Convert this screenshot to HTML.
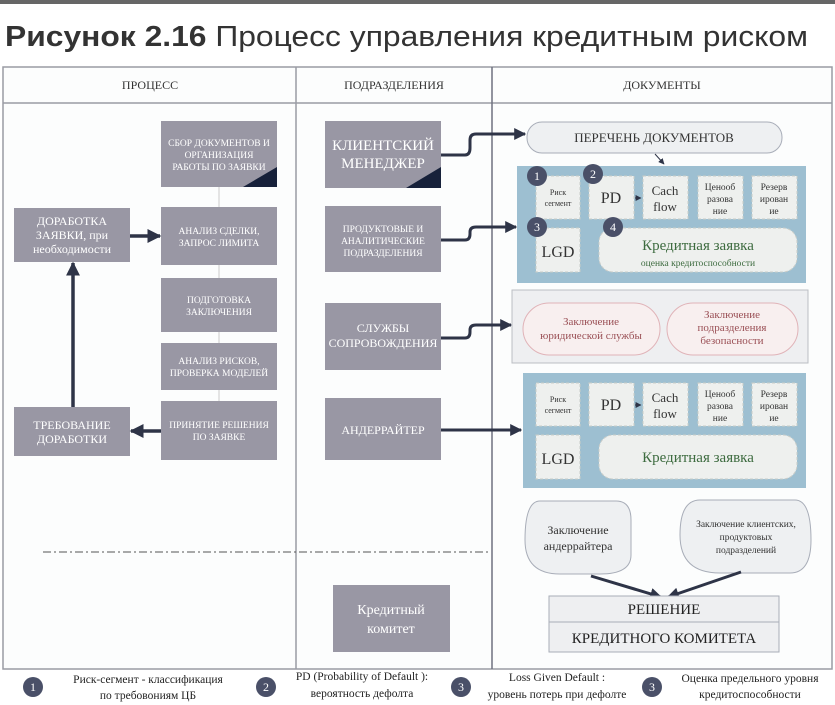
<!DOCTYPE html>
<html><head><meta charset="utf-8"><style>
html,body{margin:0;padding:0;background:#fff;width:835px;height:705px;overflow:hidden}
svg{display:block}
.s{font-family:"Liberation Serif","DejaVu Serif",serif}
.w{fill:#fff}
</style></head><body>
<svg width="835" height="705" viewBox="0 0 835 705" xmlns="http://www.w3.org/2000/svg">
<defs>
<marker id="ah" viewBox="0 0 10 10" refX="9" refY="5" markerWidth="4" markerHeight="4" orient="auto"><path d="M0,0 L10,5 L0,10 z" fill="#2e3447"/></marker>
<marker id="ahs" viewBox="0 0 10 10" refX="9" refY="5" markerWidth="6" markerHeight="6" orient="auto"><path d="M0,0 L10,5 L0,10 z" fill="#2e3447"/></marker>
</defs>
<rect x="0" y="0" width="835" height="4" fill="#666"/>
<text x="5" y="46" font-family="Liberation Sans, sans-serif" font-size="29" fill="#333" textLength="803" lengthAdjust="spacingAndGlyphs"><tspan font-weight="bold">Рисунок 2.16</tspan> Процесс управления кредитным риском</text>

<rect x="3" y="67" width="829" height="602" fill="#fcfdfd" stroke="#9a9ca4" stroke-width="1.5"/>
<line x1="3" y1="103" x2="832" y2="103" stroke="#9a9ca4" stroke-width="1.5"/>
<line x1="296" y1="67" x2="296" y2="669" stroke="#9a9ca4" stroke-width="1.5"/>
<line x1="492" y1="67" x2="492" y2="669" stroke="#6e7280" stroke-width="1.5"/>
<g class="s" font-size="12" fill="#333" text-anchor="middle">
<text x="150" y="89">ПРОЦЕСС</text><text x="394" y="89">ПОДРАЗДЕЛЕНИЯ</text><text x="662" y="89">ДОКУМЕНТЫ</text></g>

<line x1="219" y1="187" x2="219" y2="401" stroke="#ccc" stroke-width="1"/>
<g fill="#9997a4">
<rect x="161" y="121" width="116" height="66"/>
<rect x="161" y="207" width="116" height="58"/>
<rect x="161" y="278" width="116" height="54"/>
<rect x="161" y="343" width="116" height="47"/>
<rect x="161" y="401" width="116" height="59"/>
<rect x="14" y="208" width="116" height="54"/>
<rect x="14" y="407" width="116" height="49"/>
</g>
<path d="M243,187 L277,187 L277,167 z" fill="#17213a"/>
<g class="s w" font-size="9.5" text-anchor="middle">
<text x="219" y="146">СБОР ДОКУМЕНТОВ И</text><text x="219" y="158">ОРГАНИЗАЦИЯ</text><text x="219" y="170">РАБОТЫ ПО ЗАЯВКИ</text>
<text x="219" y="234">АНАЛИЗ СДЕЛКИ,</text><text x="219" y="246">ЗАПРОС ЛИМИТА</text>
<text x="219" y="303">ПОДГОТОВКА</text><text x="219" y="315">ЗАКЛЮЧЕНИЯ</text>
<text x="219" y="364">АНАЛИЗ РИСКОВ,</text><text x="219" y="376">ПРОВЕРКА МОДЕЛЕЙ</text>
<text x="219" y="428">ПРИНЯТИЕ РЕШЕНИЯ</text><text x="219" y="440">ПО ЗАЯВКЕ</text>
</g>
<g class="s w" font-size="12" text-anchor="middle">
<text x="72" y="225">ДОРАБОТКА</text><text x="72" y="239">ЗАЯВКИ, при</text><text x="72" y="253">необходимости</text>
<text x="72" y="429">ТРЕБОВАНИЕ</text><text x="72" y="443">ДОРАБОТКИ</text>
</g>
<g stroke="#2e3447" stroke-width="3.5" fill="none">
<line x1="130" y1="236" x2="160" y2="236" marker-end="url(#ah)"/>
<line x1="73" y1="407" x2="73" y2="263" marker-end="url(#ah)"/>
<line x1="161" y1="431" x2="131" y2="431" marker-end="url(#ah)"/>
</g>

<g fill="#9997a4">
<rect x="325" y="121" width="116" height="67"/>
<rect x="325" y="206" width="116" height="66"/>
<rect x="325" y="303" width="116" height="67"/>
<rect x="325" y="398" width="116" height="62"/>
<rect x="333" y="585" width="117" height="67"/>
</g>
<path d="M406,188 L441,188 L441,167 z" fill="#17213a"/>
<g class="s w" text-anchor="middle">
<text x="383" y="150" font-size="15">КЛИЕНТСКИЙ</text><text x="383" y="168" font-size="15">МЕНЕДЖЕР</text>
<text x="383" y="232" font-size="9.5">ПРОДУКТОВЫЕ И</text><text x="383" y="244" font-size="9.5">АНАЛИТИЧЕСКИЕ</text><text x="383" y="256" font-size="9.5">ПОДРАЗДЕЛЕНИЯ</text>
<text x="383" y="332" font-size="12">СЛУЖБЫ</text><text x="383" y="347" font-size="12">СОПРОВОЖДЕНИЯ</text>
<text x="383" y="434" font-size="12">АНДЕРРАЙТЕР</text>
<text x="391" y="614" font-size="14">Кредитный</text><text x="391" y="633" font-size="14">комитет</text>
</g>
<line x1="43" y1="552" x2="490" y2="552" stroke="#555" stroke-width="1" stroke-dasharray="8,3,2,3"/>
<g stroke="#2e3447" stroke-width="3" fill="none">
<path d="M441,155 L465,155 Q470,155 470,148 L470,140 Q470,134 476,134 L525,134" marker-end="url(#ah)"/>
<path d="M441,240 L465,240 Q470,240 470,234 L470,232 Q470,227 476,227 L516,227" marker-end="url(#ah)"/>
<path d="M441,338 L465,338 Q470,338 470,332 L470,330 Q470,325 476,325 L511,325" marker-end="url(#ah)"/>
<path d="M441,430 L521,430" marker-end="url(#ah)"/>
</g>

<rect x="527" y="122" width="255" height="31" rx="15" fill="#eef0f2" stroke="#a8adb8"/>
<text x="654" y="142" class="s" font-size="13" fill="#333" text-anchor="middle">ПЕРЕЧЕНЬ ДОКУМЕНТОВ</text>
<line x1="655" y1="154" x2="664" y2="164" stroke="#2e3447" stroke-width="1" marker-end="url(#ahs)"/>

<rect x="517" y="166" width="289" height="117" fill="#9dbfd1"/>
<rect x="523" y="373" width="283" height="115" fill="#9dbfd1"/>
<g id="bb">
<g fill="#eef0ee" stroke="#c8ccc8" stroke-dasharray="3,2">
<rect x="536" y="176" width="44" height="43"/>
<rect x="589" y="176" width="45" height="43"/>
<rect x="643" y="176" width="45" height="43"/>
<rect x="698" y="176" width="45" height="43"/>
<rect x="752" y="176" width="45" height="43"/>
<rect x="536" y="228" width="44" height="44"/>
<rect x="599" y="228" width="198" height="44" rx="14"/>
</g>
<g class="s" fill="#333" text-anchor="middle">
<text x="558" y="195" font-size="8">Риск</text><text x="558" y="206" font-size="8">сегмент</text>
<text x="611" y="203" font-size="16">PD</text>
<text x="665" y="195" font-size="13">Cach</text><text x="665" y="211" font-size="13">flow</text>
<text x="720" y="190" font-size="9.5">Ценооб</text><text x="720" y="202" font-size="9.5">разова</text><text x="720" y="214" font-size="9.5">ние</text>
<text x="774" y="190" font-size="9.5">Резерв</text><text x="774" y="202" font-size="9.5">ирован</text><text x="774" y="214" font-size="9.5">ие</text>
<text x="558" y="257" font-size="16">LGD</text>
</g>
<line x1="635" y1="198" x2="641" y2="198" stroke="#2e3447" stroke-width="1" marker-end="url(#ahs)"/>
</g>
<text x="698" y="250" class="s" font-size="15" fill="#3d6b3f" text-anchor="middle">Кредитная заявка</text>
<text x="698" y="266" class="s" font-size="9.5" fill="#3d6b3f" text-anchor="middle">оценка кредитоспособности</text>
<g fill="#4a5068"><circle cx="537" cy="176" r="10"/><circle cx="593" cy="174" r="10"/><circle cx="537" cy="227" r="10"/><circle cx="613" cy="227" r="10"/></g>
<g font-family="Liberation Serif, serif" font-size="12" fill="#fff" text-anchor="middle">
<text x="537" y="180">1</text><text x="593" y="178">2</text><text x="537" y="231">3</text><text x="613" y="231">4</text></g>

<rect x="512" y="290" width="296" height="73" fill="#eeeff1" stroke="#bbbec4"/>
<rect x="523" y="303" width="137" height="52" rx="26" fill="#f8efef" stroke="#e0b3b8"/>
<rect x="667" y="303" width="131" height="52" rx="26" fill="#f8efef" stroke="#e0b3b8"/>
<g class="s" font-size="11" fill="#9a4f55" text-anchor="middle">
<text x="591" y="325">Заключение</text><text x="591" y="339">юридической службы</text>
<text x="732" y="318">Заключение</text><text x="732" y="331">подразделения</text><text x="732" y="344">безопасности</text></g>

<g transform="translate(0,207)"><use href="#bb"/></g>
<text x="698" y="462" class="s" font-size="15" fill="#3d6b3f" text-anchor="middle">Кредитная заявка</text>

<path d="M540,501 L616,501 Q631,501 631,520 L631,555 Q631,574 600,574 L560,574 Q525,574 525,540 Q525,501 540,501 z" fill="#eef0f2" stroke="#a8adb8"/>
<path d="M700,500 L795,500 Q811,500 811,540 Q811,573 790,573 L720,573 Q680,573 680,535 Q680,500 700,500 z" fill="#eef0f2" stroke="#a8adb8"/>
<g class="s" fill="#333" text-anchor="middle">
<text x="578" y="534" font-size="12">Заключение</text><text x="578" y="550" font-size="12">андеррайтера</text>
<text x="746" y="527" font-size="9.5">Заключение клиентских,</text><text x="746" y="540" font-size="9.5">продуктовых</text><text x="746" y="553" font-size="9.5">подразделений</text></g>
<g stroke="#2e3447" stroke-width="3" fill="none">
<line x1="591" y1="576" x2="661" y2="597" marker-end="url(#ah)"/>
<line x1="741" y1="572" x2="668" y2="597" marker-end="url(#ah)"/>
</g>
<rect x="549" y="596" width="230" height="56" fill="#eeeff1" stroke="#a8adb8"/>
<line x1="549" y1="622" x2="779" y2="622" stroke="#a8adb8"/>
<g class="s" font-size="15" fill="#222" text-anchor="middle">
<text x="664" y="614">РЕШЕНИЕ</text><text x="664" y="643">КРЕДИТНОГО КОМИТЕТА</text></g>

<g fill="#4a5068"><circle cx="33" cy="687" r="10"/><circle cx="266" cy="687" r="10"/><circle cx="461" cy="687" r="10"/><circle cx="652" cy="687" r="10"/></g>
<g font-family="Liberation Serif, serif" font-size="12" fill="#fff" text-anchor="middle">
<text x="33" y="691">1</text><text x="266" y="691">2</text><text x="461" y="691">3</text><text x="652" y="691">3</text></g>
<g class="s" font-size="11.5" fill="#222" text-anchor="middle">
<text x="148" y="683">Риск-сегмент - классификация</text><text x="148" y="699">по требовониям ЦБ</text>
<text x="362" y="680">PD (Probability of Default ):</text><text x="362" y="697">вероятность дефолта</text>
<text x="557" y="681">Loss Given Default :</text><text x="557" y="698">уровень потерь при дефолте</text>
<text x="750" y="682">Оценка предельного уровня</text><text x="750" y="698">кредитоспособности</text></g>
</svg>
</body></html>
